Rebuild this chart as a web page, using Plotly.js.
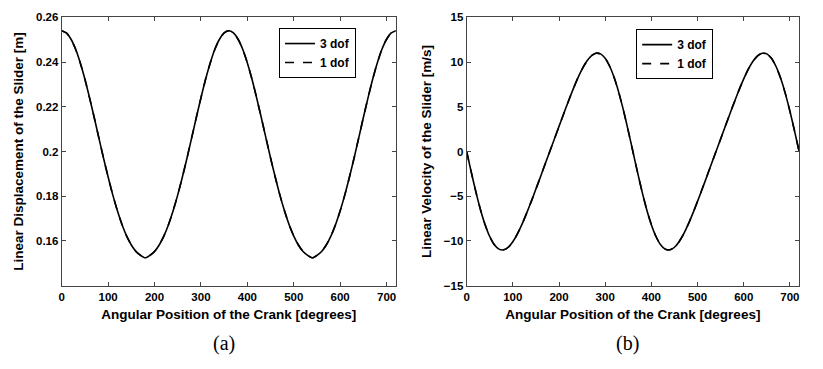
<!DOCTYPE html>
<html>
<head>
<meta charset="utf-8">
<script src="https://cdn.plot.ly/plotly-3.0.1.min.js"></script>
<style>html,body{margin:0;padding:0;background:#fff;}#chart{width:823px;height:369px;}</style>
</head>
<body>
<div id="chart"></div>
<script>
// Crank angle (degrees)
const crankAngle = [0,10,20,30,40,50,60,70,80,90,100,110,120,130,140,150,160,170,180,
                    190,200,210,220,230,240,250,260,270,280,290,300,310,320,330,340,350,360,
                    370,380,390,400,410,420,430,440,450,460,470,480,490,500,510,520,530,540,
                    550,560,570,580,590,600,610,620,630,640,650,660,670,680,690,700,710,720];
// (a) Linear displacement of the slider [m]
const disp3dof = [0.2540,0.2530,0.2502,0.2457,0.2396,0.2323,0.2240,0.2152,0.2061,0.1971,
                  0.1886,0.1806,0.1735,0.1673,0.1622,0.1582,0.1553,0.1536,0.1525,
                  0.1536,0.1553,0.1582,0.1622,0.1673,0.1735,0.1806,0.1886,0.1971,
                  0.2061,0.2152,0.2240,0.2323,0.2396,0.2457,0.2502,0.2530,0.2540,
                  0.2530,0.2502,0.2457,0.2396,0.2323,0.2240,0.2152,0.2061,0.1971,
                  0.1886,0.1806,0.1735,0.1673,0.1622,0.1582,0.1553,0.1536,0.1525,
                  0.1536,0.1553,0.1582,0.1622,0.1673,0.1735,0.1806,0.1886,0.1971,
                  0.2061,0.2152,0.2240,0.2323,0.2396,0.2457,0.2502,0.2530,0.2540];
const disp1dof = [0.2540,0.2530,0.2502,0.2457,0.2396,0.2323,0.2240,0.2152,0.2061,0.1971,
                  0.1886,0.1806,0.1735,0.1673,0.1622,0.1582,0.1553,0.1536,0.1525,
                  0.1536,0.1553,0.1582,0.1622,0.1673,0.1735,0.1806,0.1886,0.1971,
                  0.2061,0.2152,0.2240,0.2323,0.2396,0.2457,0.2502,0.2530,0.2540,
                  0.2530,0.2502,0.2457,0.2396,0.2323,0.2240,0.2152,0.2061,0.1971,
                  0.1886,0.1806,0.1735,0.1673,0.1622,0.1582,0.1553,0.1536,0.1525,
                  0.1536,0.1553,0.1582,0.1622,0.1673,0.1735,0.1806,0.1886,0.1971,
                  0.2061,0.2152,0.2240,0.2323,0.2396,0.2457,0.2502,0.2530,0.2540];
// (b) Linear velocity of the slider [m/s]
const vel3dof = [0,-2.31,-4.51,-6.50,-8.18,-9.50,-10.42,-10.91,-10.99,-10.70,
                 -10.08,-9.20,-8.12,-6.89,-5.57,-4.20,-2.81,-1.40,0,
                 1.40,2.81,4.20,5.57,6.89,8.12,9.20,10.08,10.70,
                 10.99,10.91,10.42,9.50,8.18,6.50,4.51,2.31,0,
                 -2.31,-4.51,-6.50,-8.18,-9.50,-10.42,-10.91,-10.99,-10.70,
                 -10.08,-9.20,-8.12,-6.89,-5.57,-4.20,-2.81,-1.40,0,
                 1.40,2.81,4.20,5.57,6.89,8.12,9.20,10.08,10.70,
                 10.99,10.91,10.42,9.50,8.18,6.50,4.51,2.31,0];
const vel1dof = [0,-2.31,-4.51,-6.50,-8.18,-9.50,-10.42,-10.91,-10.99,-10.70,
                 -10.08,-9.20,-8.12,-6.89,-5.57,-4.20,-2.81,-1.40,0,
                 1.40,2.81,4.20,5.57,6.89,8.12,9.20,10.08,10.70,
                 10.99,10.91,10.42,9.50,8.18,6.50,4.51,2.31,0,
                 -2.31,-4.51,-6.50,-8.18,-9.50,-10.42,-10.91,-10.99,-10.70,
                 -10.08,-9.20,-8.12,-6.89,-5.57,-4.20,-2.81,-1.40,0,
                 1.40,2.81,4.20,5.57,6.89,8.12,9.20,10.08,10.70,
                 10.99,10.91,10.42,9.50,8.18,6.50,4.51,2.31,0];
const xTicks = [0,100,200,300,400,500,600,700];
const dispTicks = [0.16,0.18,0.2,0.22,0.24,0.26];
const dispTickText = ['0.16','0.18','0.2','0.22','0.24','0.26'];
const velTicks = [-15,-10,-5,0,5,10,15];
const seriesNames = ['3 dof','1 dof'];

const FONT = 'Liberation Sans, Arial, sans-serif';
const tickFont = {family: FONT, size: 11.5, color: '#000', weight: 700};
const titleFont = {family: FONT, size: 13.5, color: '#000', weight: 700};

function trace(x, y, name, dash, xa, ya, legend) {
  return {x: x, y: y, name: name, type: 'scatter', mode: 'lines',
          xaxis: xa, yaxis: ya, legend: legend, showlegend: true,
          line: {color: '#000', width: 1.6, dash: dash, shape: 'spline', smoothing: 0.6}};
}

const data = [
  trace(crankAngle, disp3dof, seriesNames[0], 'solid', 'x', 'y', 'legend'),
  trace(crankAngle, disp1dof, seriesNames[1], 'dash', 'x', 'y', 'legend'),
  trace(crankAngle, vel3dof, seriesNames[0], 'solid', 'x2', 'y2', 'legend2'),
  trace(crankAngle, vel1dof, seriesNames[1], 'dash', 'x2', 'y2', 'legend2')
];

function xax(domain, anchor) {
  return {domain: domain, anchor: anchor, range: [0, 720], tickvals: xTicks,
          ticks: 'inside', ticklen: 4, tickcolor: '#444', mirror: 'ticks',
          showline: true, linecolor: '#444', linewidth: 1, showgrid: false, zeroline: false,
          tickfont: tickFont, automargin: false,
          title: {text: 'Angular Position of the Crank [degrees]', font: titleFont, standoff: 8}};
}
function yax(domain, anchor, range, tv, tt, title) {
  const a = {domain: domain, anchor: anchor, range: range, tickvals: tv,
          ticks: 'inside', ticklen: 4, tickcolor: '#444', mirror: 'ticks',
          showline: true, linecolor: '#444', linewidth: 1, showgrid: false, zeroline: false,
          tickfont: tickFont, automargin: false,
          title: {text: title, font: titleFont, standoff: 9}};
  if (tt) a.ticktext = tt;
  return a;
}

const yDom = [0.2257, 0.9531];
const legendStyle = {bgcolor: '#fff', bordercolor: '#000', borderwidth: 1,
                     font: {family: FONT, size: 12, color: '#000', weight: 700},
                     xanchor: 'left', yanchor: 'top', tracegroupgap: 0, itemwidth: 30};

const serif = {family: 'Liberation Serif, Times New Roman, serif', size: 20, color: '#000'};
const layout = {
  width: 823, height: 369,
  margin: {l: 0, r: 0, t: 0, b: 0},
  paper_bgcolor: '#fff', plot_bgcolor: '#fff',
  xaxis: xax([0.075, 0.481], 'y'),
  yaxis: yax(yDom, 'x', [0.14, 0.26], dispTicks, dispTickText, 'Linear Displacement of the Slider [m]'),
  xaxis2: xax([0.567, 0.971], 'y2'),
  yaxis2: yax(yDom, 'x2', [-15, 15], velTicks, null, 'Linear Velocity of the Slider [m/s]'),
  legend: Object.assign({x: 0.339, y: 0.924}, legendStyle),
  legend2: Object.assign({x: 0.773, y: 0.921}, legendStyle),
  annotations: [
    {text: '(a)', x: 0.2722, y: 1 - 343 / 369, xref: 'paper', yref: 'paper', showarrow: false,
     xanchor: 'center', yanchor: 'middle', font: serif},
    {text: '(b)', x: 0.7625, y: 1 - 343 / 369, xref: 'paper', yref: 'paper', showarrow: false,
     xanchor: 'center', yanchor: 'middle', font: serif}
  ]
};

Plotly.newPlot('chart', data, layout, {staticPlot: true, displayModeBar: false});
</script>
</body>
</html>
